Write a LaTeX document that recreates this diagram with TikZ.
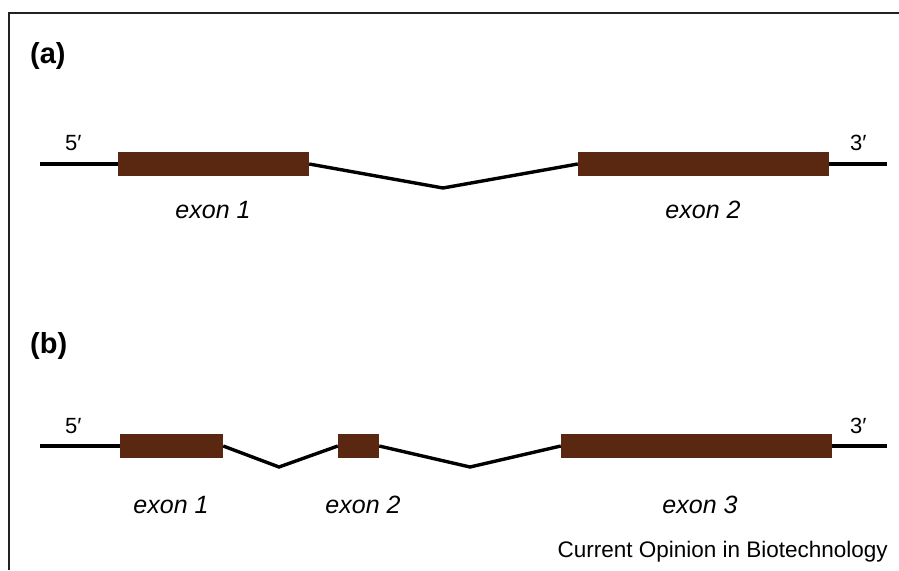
\documentclass[tikz,border=0pt]{standalone}
\usepackage{fontspec}
\setmainfont{Liberation Sans}
\definecolor{exonbrown}{HTML}{5A2810}
\definecolor{framegray}{HTML}{222222}
\begin{document}
\begin{tikzpicture}[x=1pt,y=-1pt,
  exonbox/.style={fill=exonbrown, draw=none, inner sep=0pt, minimum height=24.5pt},
  dna/.style={line width=3.4pt, line join=miter, line cap=butt},
  exonlbl/.style={font=\fontsize{25}{30}\selectfont\itshape, inner sep=0pt, anchor=base},
  endlbl/.style={font=\fontsize{22}{26}\selectfont, inner sep=0pt, anchor=base west},
  panellbl/.style={font=\fontsize{29}{34}\selectfont\bfseries, inner sep=0pt, anchor=base west},
  creditlbl/.style={font=\fontsize{22.5}{27}\selectfont, inner sep=0pt, anchor=base east}]
\useasboundingbox (0,0) rectangle (899,570);
% frame
\draw[line width=2.8pt, framegray] (9,570) -- (9,13) -- (899,13);

% ---------- (a) ----------
\node[panellbl] (pa) at (30,63) {(a)};
\node[exonbox, minimum width=191pt] (a1) at (213.5,164) {};
\node[exonbox, minimum width=251pt] (a2) at (703.5,164) {};
\coordinate (a5) at (40,164);
\coordinate (a3) at (887,164);
\coordinate (av) at (443,188);
\draw[dna] (a5) -- (a1.west);
\draw[dna] (a1.east) -- (av) -- (a2.west);
\draw[dna] (a2.east) -- (a3);
\node[endlbl] (a5l) at (65,150) {5′};
\node[endlbl] (a3l) at (850,150) {3′};
\node[exonlbl] (a1l) at (213,218) {exon 1};
\node[exonlbl] (a2l) at (703,218) {exon 2};

% ---------- (b) ----------
\node[panellbl] (pb) at (30,353) {(b)};
\node[exonbox, minimum width=103pt] (b1) at (171.5,446) {};
\node[exonbox, minimum width=41pt] (b2) at (358.5,446) {};
\node[exonbox, minimum width=271pt] (b3) at (696.5,446) {};
\coordinate (b5) at (40,446);
\coordinate (b3e) at (887,446);
\coordinate (bv1) at (279,467);
\coordinate (bv2) at (470,467);
\draw[dna] (b5) -- (b1.west);
\draw[dna] (b1.east) -- (bv1) -- (b2.west);
\draw[dna] (b2.east) -- (bv2) -- (b3.west);
\draw[dna] (b3.east) -- (b3e);
\node[endlbl] (b5l) at (65,433) {5′};
\node[endlbl] (b3l) at (850,433) {3′};
\node[exonlbl] (b1l) at (171,513) {exon 1};
\node[exonlbl] (b2l) at (363,513) {exon 2};
\node[exonlbl] (b3l2) at (700,513) {exon 3};

\node[creditlbl] (credit) at (888,557) {Current Opinion in Biotechnology};
\end{tikzpicture}
\end{document}
